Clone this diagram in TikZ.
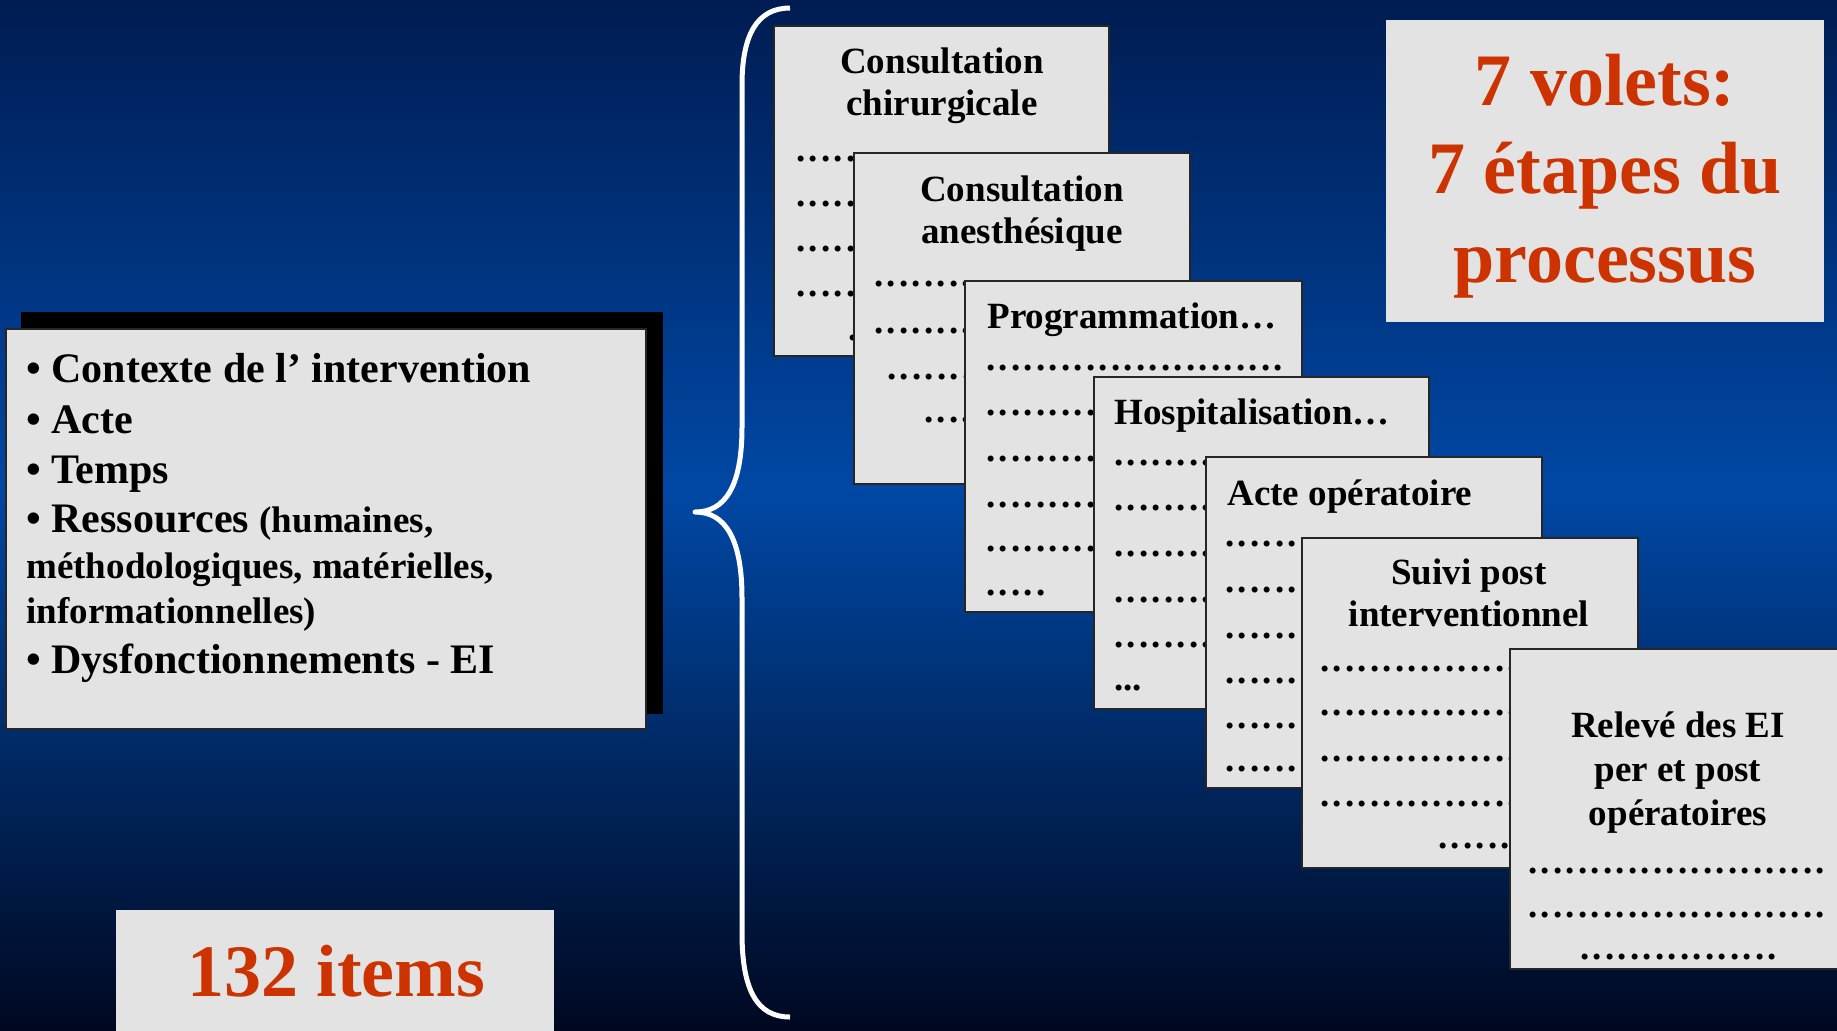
\documentclass[tikz,border=0pt]{standalone}
\usepackage{fontspec}
\setmainfont{Liberation Serif}
\definecolor{bgtop}{RGB}{0,28,82}
\definecolor{bgmid}{RGB}{0,72,165}
\definecolor{bgbot}{RGB}{0,8,32}
\definecolor{paper}{RGB}{227,227,227}
\definecolor{redtxt}{RGB}{204,51,0}
\newcommand\dotsn[1]{\foreach \i in {1,...,#1}{\hbox to 6.25pt{\hss.\hss}}}
\tikzset{
 card/.style={draw=black!85, line width=1.2pt, fill=paper},
 ttl/.style={font=\fontsize{18.5pt}{22pt}\selectfont\bfseries, inner sep=0pt, anchor=base, text=black},
 ttlw/.style={ttl, anchor=base west},
 drow/.style={font=\fontsize{18.5pt}{22pt}\selectfont\bfseries, inner sep=0pt, anchor=base west, text=black},
 lst/.style={font=\fontsize{21pt}{25pt}\selectfont\bfseries, inner sep=0pt, anchor=base west, text=black},
 lsts/.style={font=\fontsize{18.5pt}{22pt}\selectfont\bfseries, inner sep=0pt, anchor=base west, text=black},
 big/.style={font=\fontsize{37pt}{44pt}\selectfont\bfseries, text=redtxt, inner sep=0pt, anchor=base},
 brace/.style={draw=white, line width=2.5pt, line join=round},
}
\begin{document}
\begin{tikzpicture}[x=0.5pt,y=-0.5pt]
\clip (0,0) rectangle (1837,1030);
\shade[top color=bgtop, bottom color=bgmid] (0,-1) rectangle (1837,490);
\shade[top color=bgmid, bottom color=bgbot] (0,489) rectangle (1837,1031);

% brace
\draw[brace] (790,8) .. controls (757,8) and (742,35) .. (742,85) -- (742,427)
  .. controls (742,485) and (726,512) .. (695,512)
  .. controls (726,512) and (742,540) .. (742,598) -- (742,933)
  .. controls (742,990) and (757,1017) .. (790,1017);

% left box
\fill[black] (21,312) rectangle (663,714);
\draw[card, line width=1pt] (6,329) rectangle (646,729);
\node[lst] (l1) at (26,382) {• Contexte de l’ intervention};
\node[lst] (l2) at (26,433) {• Acte};
\node[lst] (l3) at (26,483) {• Temps};
\node[lst] (l4) at (26,532) {• Ressources {\fontsize{18.5pt}{22pt}\selectfont(humaines,}};
\node[lsts] (l5) at (26,578) {méthodologiques, matérielles,};
\node[lsts] (l6) at (26,623) {informationnelles)};
\node[lst] (l7) at (26,673) {• Dysfonctionnements - EI};

% card 1
\draw[card] (774,26) rectangle (1109,356);
\node[ttl] (t1a) at (942,73) {Consultation};
\node[ttl] (t1b) at (942,115) {chirurgicale};
\node[drow] (d1a) at (794,161) {\dotsn{23}};
\node[drow] (d1b) at (794,206) {\dotsn{23}};
\node[drow] (d1c) at (794,251) {\dotsn{23}};
\node[drow] (d1d) at (794,296) {\dotsn{23}};
\node[drow] (d1e) at (846,340) {\dotsn{10}};

% card 2
\draw[card] (854,153) rectangle (1190,484);
\node[ttl] (t2a) at (1022,201) {Consultation};
\node[ttl] (t2b) at (1022,243) {anesthésique};
\node[drow] (d2a) at (872,286) {\dotsn{24}};
\node[drow] (d2b) at (872,333) {\dotsn{24}};
\node[drow] (d2c) at (885,379) {\dotsn{23}};
\node[drow] (d2d) at (922,422) {\dotsn{20}};

% card 3
\draw[card] (965,281) rectangle (1302,612);
\node[ttlw] (t3) at (987,328) {Programmation…};
\node[drow] (d3a) at (984,370) {\dotsn{24}};
\node[drow] (d3b) at (984,415) {\dotsn{24}};
\node[drow] (d3c) at (984,461) {\dotsn{24}};
\node[drow] (d3d) at (984,507) {\dotsn{24}};
\node[drow] (d3e) at (984,551) {\dotsn{24}};
\node[drow] (d3f) at (984,595) {\dotsn{5}};

% card 4
\draw[card] (1094,377) rectangle (1429,709);
\node[ttlw] (t4) at (1114,424) {Hospitalisation…};
\node[drow] (d4a) at (1112,465) {\dotsn{24}};
\node[drow] (d4b) at (1112,510) {\dotsn{24}};
\node[drow] (d4c) at (1112,556) {\dotsn{24}};
\node[drow] (d4d) at (1112,602) {\dotsn{24}};
\node[drow] (d4e) at (1112,647) {\dotsn{24}};
\node[drow] (d4f) at (1114,690) {...};

% card 5
\draw[card] (1206,457) rectangle (1542,788);
\node[ttlw] (t5) at (1227,505) {Acte opératoire};
\node[drow] (d5a) at (1223,546) {\dotsn{24}};
\node[drow] (d5b) at (1223,592) {\dotsn{24}};
\node[drow] (d5c) at (1223,638) {\dotsn{24}};
\node[drow] (d5d) at (1223,683) {\dotsn{24}};
\node[drow] (d5e) at (1223,728) {\dotsn{24}};
\node[drow] (d5f) at (1223,771) {\dotsn{24}};

% card 6
\draw[card] (1302,538) rectangle (1638,868);
\node[ttl] (t6a) at (1469,584) {Suivi post};
\node[ttl] (t6b) at (1469,626) {interventionnel};
\node[drow] (d6a) at (1318,671) {\dotsn{24}};
\node[drow] (d6b) at (1318,715) {\dotsn{24}};
\node[drow] (d6c) at (1318,761) {\dotsn{24}};
\node[drow] (d6d) at (1318,806) {\dotsn{24}};
\node[drow] (d6e) at (1436,848) {\dotsn{6}};

% card 7
\draw[card] (1510,649) rectangle (1846,969);
\node[ttl] (t7a) at (1678,737) {Relevé des EI};
\node[ttl] (t7b) at (1678,781) {per et post};
\node[ttl] (t7c) at (1678,825) {opératoires};
\node[drow] (d7a) at (1526,873) {\dotsn{24}};
\node[drow] (d7b) at (1526,917) {\dotsn{24}};
\node[drow] (d7c) at (1578,959) {\dotsn{16}};

% red boxes
\fill[paper] (1386,20) rectangle (1824,322);
\node[big] (r1) at (1605,105) {7 volets:};
\node[big] (r2) at (1605,193) {7 étapes du};
\node[big] (r3) at (1605,282) {processus};
\fill[paper] (116,910) rectangle (554,1040);
\node[big] (r4) at (336,996) {132 items};
\end{tikzpicture}
\end{document}
